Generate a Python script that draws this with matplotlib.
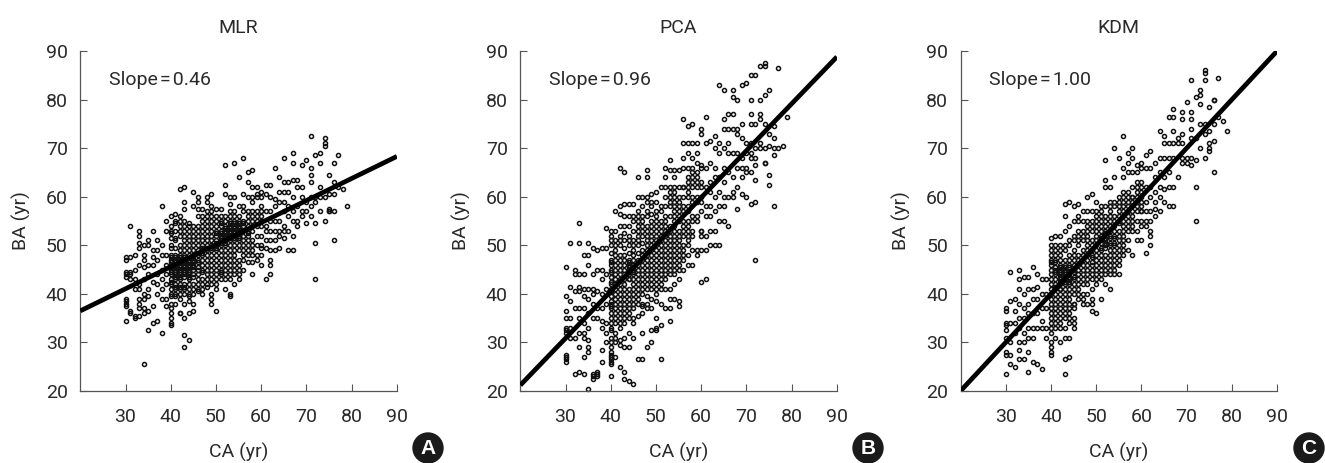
import matplotlib
matplotlib.use("Agg")
import matplotlib.pyplot as plt
from matplotlib.patches import Circle

plt.rcParams['font.family'] = ['Roboto', 'Liberation Sans', 'DejaVu Sans']

# chronological age, whole years
ca_years = list(range(30, 80))
core_years = list(range(40, 61))

# BA values, one row per CA year
mlr_ba = [
    [47, 47.5, 44, 43.5, 44.5, 39, 38.5, 38, 37.5, 34.5],
    [54, 47.5, 44.5, 44, 43, 36.5, 36],
    [48, 45, 43, 41, 35.5, 35],
    [53, 52, 50.5, 49.5, 46, 42, 41, 39, 38, 37, 35.5],
    [50, 48, 47, 45.5, 43, 40, 39, 37, 36, 25.5],
    [51, 50, 46, 44, 41, 39.5, 36.5, 32.5],
    [53, 49, 47.5, 46, 42.5, 37.5, 34],
    [51, 49, 47, 44, 42, 40, 34.5],
    [58, 50, 48, 45, 43, 41, 39, 32],
    [55, 53, 48, 46, 44, 42, 39, 37.5],
    [56, 54, 53, 51.5, 50, 48, 47, 46, 45, 44, 43, 42, 41, 40, 38, 37, 36, 35, 34, 33.5],
    [56.5, 55, 53, 51, 49.5, 48, 47, 46, 45, 44, 43, 42, 41, 40, 38],
    [61.5, 56, 54, 52, 50, 48, 47, 46, 45, 44, 43, 42, 41, 40, 36, 36],
    [62, 59, 57.5, 55, 54, 52, 50, 48, 47, 46, 45, 44, 42, 41, 40, 38, 35, 31.5, 29],
    [54.5, 54, 53, 51, 49, 47, 46, 45, 44, 43, 41, 40, 38.5, 36, 30.5],
    [61, 58, 54, 52, 50, 48, 47, 46, 45, 44, 42, 40, 38, 36.5],
    [60, 59, 56, 54, 52, 51, 49, 48, 47, 45, 44, 43, 41],
    [57.5, 56, 55, 53, 51, 50, 49, 48, 46, 45, 43, 42, 40],
    [60, 59, 57, 55, 54, 52, 50, 49, 47, 45, 44, 42],
    [60.5, 58, 56, 54, 52, 50, 49, 47, 46, 44, 42, 40, 39, 38],
    [57.5, 56, 55, 53, 52, 50, 49, 48, 46, 45, 44, 42, 36.5],
    [57.5, 56, 54, 53, 52, 51, 50, 48, 47, 45, 44, 43],
    [66.5, 62.5, 60.5, 56, 54, 53, 52, 51, 50, 48, 46, 44, 43, 41],
    [60, 58.5, 56, 55, 54, 53, 52, 51, 49, 47, 45, 44, 40, 39.5],
    [67, 60, 56, 55, 54, 53, 52, 51, 50, 48, 46, 44, 42],
    [64, 56, 55, 54, 53, 52, 51, 50, 47, 45, 43],
    [68, 60.5, 58, 55, 54, 53, 51, 50, 48, 45],
    [65, 63, 60, 57, 55, 53, 52, 51, 50, 49, 46.5],
    [65.5, 62, 60, 59, 57, 55, 53, 50, 48, 46.5, 44],
    [62, 60.5, 57, 54, 52, 48, 47],
    [61, 60, 57, 55, 54, 50, 49.5, 46],
    [62.5, 60.5, 57, 54, 53, 51, 49.5, 43],
    [62.5, 60, 57, 55, 53, 51, 49, 47, 46, 44],
    [66, 59.5, 58, 55, 53, 51, 49],
    [64, 61, 59, 55, 53, 52, 49.5],
    [68, 63, 61, 59, 57, 54, 53, 51.5],
    [63, 61, 58, 56, 53, 49],
    [69, 67, 63.5, 60, 57, 55, 52, 49],
    [63.5, 62, 58, 55, 54],
    [66.5, 62, 60, 57, 56],
    [67.5, 59, 57, 54.5],
    [72.5, 66, 64.5, 63, 60, 58, 56],
    [68.5, 60, 59, 54.5, 50.5, 43],
    [69, 67, 62, 60, 57],
    [72, 71, 70.5, 60, 55],
    [64.5, 60.5, 57.5, 57, 57],
    [67, 63, 60.5, 57, 51],
    [68.5, 62],
    [61.5],
    [58],
]

# extra points of the dense middle, CA 40 to 60
mlr_core = [
    [52.5, 49.5, 47.5, 46.5, 45.5, 44.5, 42.5, 39.5],
    [54.5, 51.5, 47.5, 46.5, 45.5, 44.5, 43.5, 41.5, 39.5],
    [55, 53, 49, 47.5, 46.5, 45.5, 44.5, 43.5, 41.5, 39],
    [53, 51, 49, 47.5, 46.5, 45.5, 44.5, 43.5, 41.5],
    [52, 50, 48, 46.5, 45.5, 44.5, 43.5, 42, 39.5],
    [53, 51, 49, 47.5, 46.5, 45.5, 43.5, 41],
    [57.5, 53, 50, 48.5, 46.5, 45.5, 42, 40.5],
    [54, 52, 49.5, 48.5, 47, 44.5, 41],
    [56, 53, 51, 49.5, 48, 46, 43, 41.5],
    [57, 55, 53, 51, 49.5, 48, 45, 43],
    [54, 52.5, 51, 50.5, 49.5, 47, 43, 41],
    [55, 54.5, 52.5, 51.5, 50.5, 49, 46, 44.5],
    [55, 53.5, 52.5, 51.5, 50.5, 49, 47, 45],
    [57, 54.5, 53.5, 52.5, 51.5, 50, 48, 46, 43],
    [57, 54.5, 53.5, 52.5, 51.5, 49, 47, 45],
    [58, 54.5, 53.5, 52.5, 51.5, 49, 46, 44],
    [57, 54.5, 52, 49, 47],
    [56, 54, 52.5, 48],
    [56, 54, 51, 49],
    [60, 56, 55, 50],
    [58, 56, 52, 48],
]

pca_ba = [
    [45.5, 39.5, 36.5, 35, 33, 32.5, 32, 27.5, 27, 26.5, 26],
    [50.5, 41.5, 38.5, 35, 33, 31],
    [45, 44, 40.5, 37, 31, 23.5],
    [54.5, 50.5, 44, 41.5, 40.5, 37, 35, 32, 29, 24],
    [48, 44, 41, 39.5, 37, 34, 32, 31, 27, 23.5],
    [50.5, 48, 46, 41, 39, 36, 33, 30.5, 29, 28, 20.5],
    [49.5, 44, 41, 40, 38, 35, 23.5, 23, 22.5],
    [49, 45, 40.5, 37, 35, 24, 23.5, 23],
    [49.5, 45, 43, 40, 37, 34.5, 33, 28.5, 26],
    [53.5, 49.5, 44, 41, 38, 34, 32, 30],
    [53, 52, 50, 47, 46, 45, 43.5, 42, 41, 39.5, 38, 37, 36, 34, 33, 31, 30, 29, 28, 27.5, 27, 26.5, 26, 25.5, 23],
    [57, 53, 50, 48, 46, 44, 42, 40, 38, 36, 34, 32, 30, 27],
    [66, 58, 56.5, 52, 50, 47, 45, 43, 41, 39, 37, 35, 33, 30.5, 29.5, 25],
    [65, 58.5, 56, 54, 51, 48, 46, 44, 42, 40, 38, 36, 34, 31, 29, 24, 22.5],
    [58.5, 56, 52, 50, 47, 46, 45, 44, 43, 41, 39, 37, 35, 32, 29, 22],
    [58.5, 56, 53, 50, 48, 46, 45, 44, 42, 40, 38, 35, 34, 31, 21.5],
    [64, 60, 56, 54, 52, 50, 47, 45, 43, 41, 39, 35.5, 26.5],
    [60, 56, 54, 52, 49, 47, 45, 43, 41, 38, 36, 32, 26.5],
    [65.5, 64, 60, 57, 54, 52, 50, 48, 46, 44, 42, 38, 37, 29],
    [60.5, 58, 55, 53, 51, 49, 47, 45, 43, 41, 37, 32.5, 30],
    [61, 57, 55, 53, 51, 49, 47, 45, 43, 41, 38.5, 35, 33, 32.5],
    [62, 58, 55, 53, 51, 49, 48, 46, 44, 41, 38, 33.5, 26.5],
    [66, 64, 62, 60, 55, 53, 51, 49, 47, 45, 43, 41, 37],
    [67.5, 65.5, 62, 60, 58, 54, 52, 50, 48, 46, 44, 41, 39, 37, 34.5],
    [65.5, 64, 62, 60, 58, 56, 54, 52, 50, 48, 46, 44, 42, 39],
    [65.5, 60, 58, 56, 53, 51, 49, 47, 45, 43, 38.5, 37.5],
    [76, 71, 68, 66, 62, 58, 55, 53, 50, 48, 45],
    [74.5, 71, 69, 64, 62, 60, 57, 54, 52, 50, 46],
    [75, 71, 68, 65, 63, 60, 56, 53, 49, 46],
    [71, 69, 65, 63, 60, 56, 49, 48],
    [74, 73, 66.5, 63, 59, 53, 52, 49, 42.5],
    [76.5, 71, 66, 62, 58, 56, 52, 49, 43],
    [71.5, 67, 63, 61, 58, 56, 53, 50],
    [72.5, 70, 66, 64, 60, 57, 53, 50],
    [83, 71, 69, 64, 61, 58, 55, 50],
    [82, 76, 74, 70, 66, 63, 60, 58, 55],
    [77, 74, 71, 69, 65, 60, 54],
    [82, 80.5, 77, 74, 69, 64, 61, 60],
    [80, 74, 73, 69, 66, 62, 57.5],
    [83, 75, 72, 68, 66, 64, 60.5],
    [83.5, 71, 69, 66, 65, 60],
    [85, 80, 77, 75, 71, 69, 68, 65, 58.5],
    [85, 75, 70, 68, 66.5, 63.5, 59, 47],
    [87, 80, 77, 76, 71, 70],
    [87.5, 87, 81, 75, 70, 67, 67],
    [82, 73, 70.5, 64.5, 62.5],
    [74.5, 72, 70, 68.5, 58],
    [86.5, 70],
    [70.5],
    [76.5],
]

pca_core = [
    [51, 48.5, 46.5, 44.5, 42.5, 40.5, 38.5, 37.5, 35, 32.5],
    [51, 49, 47, 45, 43, 41, 39, 37, 35, 31],
    [54, 51, 48, 46, 44, 42, 40, 38, 36, 34],
    [52.5, 49.5, 47, 45, 43, 41, 39, 37, 35],
    [54, 51, 48.5, 46.5, 45.5, 44.5, 43, 40, 38, 36],
    [55, 51, 49, 47, 45.5, 44.5, 43, 41, 39, 37],
    [57, 55, 53, 51, 48.5, 46, 44, 42, 40, 38],
    [58, 55, 53, 50.5, 48, 46, 44, 42, 40, 37.5],
    [59, 56, 53, 51, 49, 47, 45, 43, 41, 39.5],
    [59, 56.5, 54, 52, 50, 48, 46, 44, 42, 39],
    [59, 56, 54, 52, 50, 48, 46, 44, 42, 40],
    [57, 54, 52, 50, 47, 45, 43, 42],
    [58, 56, 54, 52, 50, 48, 46, 44],
    [61, 59, 56, 53, 51, 49, 47, 45],
    [61, 59, 57, 55, 53, 51, 49, 47, 45],
    [62, 59, 57, 55, 52, 50, 48, 46],
    [62, 60, 57, 54, 52, 49, 47],
    [66, 63, 61, 58, 55, 53, 51, 48],
    [66, 64, 62, 59, 55, 52],
    [67, 64, 62, 59, 55],
    [66, 62, 60, 57, 53],
]

kdm_ba = [
    [37, 36.5, 34, 33.5, 32.5, 31, 28, 27.5, 23.5],
    [44.5, 38.5, 34, 30, 27.5, 25.5],
    [39, 36.5, 34, 32, 25],
    [45, 43, 41, 38, 35, 33, 30, 28.5, 26.5],
    [43.5, 40, 37, 35, 32, 30, 26.5],
    [43.5, 41, 38, 36, 33, 31, 28, 24],
    [45.5, 41, 39, 36, 33, 31, 26],
    [44, 41.5, 39, 36, 33, 25.5],
    [43, 40, 37, 34.5, 33, 24.5],
    [43, 40, 37, 33, 31],
    [51.5, 49, 47, 46, 44, 42, 40, 38, 36, 34, 32, 30, 29, 28, 27.5],
    [52, 50, 48, 47, 45, 44, 42, 41, 39, 37, 35, 33, 31],
    [52, 50, 48, 46, 45, 44, 43, 42, 41, 39, 37, 35, 33, 30],
    [58.5, 56, 53, 50, 47, 45, 44, 43, 42, 40, 38, 36, 33, 31, 26.5, 23.5],
    [59, 54, 51, 48, 46, 44, 43, 42, 40, 38, 36, 34, 31, 27],
    [58, 55, 52, 49, 47, 45, 43, 41, 38, 37, 34, 33],
    [58.5, 55, 52, 50, 47, 44, 42, 40],
    [57, 55, 52, 49, 47, 45, 42, 39, 38],
    [60, 57, 54, 52, 50, 47, 45, 42, 38],
    [60.5, 57, 54, 51, 48, 46, 44, 41, 39, 38, 36.5],
    [59, 56, 54, 52, 50, 48, 46, 44, 42, 36],
    [58, 56, 54, 52, 51, 49, 47, 45, 43, 39],
    [67.5, 63.5, 62, 58, 55, 53, 51, 50, 48, 46, 44, 42],
    [62, 58, 56, 54, 52, 50, 48, 46, 44, 41],
    [70, 64, 59, 56, 54, 52, 50, 48, 45, 44],
    [68, 59, 57, 55, 53, 51, 48, 46, 44],
    [72.5, 66, 64, 61, 58, 56, 54, 52, 50, 48],
    [69, 67, 65, 61, 58, 56, 54, 51, 49],
    [70, 68, 65, 60, 58, 55, 53, 48],
    [66.5, 65, 62, 60, 58, 53, 51],
    [67, 66, 62, 60, 58, 57, 55, 51],
    [68.5, 66, 62, 59, 57, 55, 54, 48.5],
    [69.5, 66, 62, 60, 57, 55, 53, 52, 50],
    [67, 64, 61, 59, 57.5, 56],
    [73.5, 68, 65, 62, 60, 57],
    [72.5, 71, 68, 64, 61.5, 59],
    [76.5, 71, 68, 65, 62, 58],
    [78, 76.5, 73.5, 71, 68, 62, 58],
    [72, 71, 64],
    [77.5, 76, 73, 71, 68, 67],
    [79.5, 68, 67],
    [84, 77.5, 76, 74, 72, 68, 66.5],
    [80.5, 72, 67.5, 62, 55],
    [82, 81, 79, 75, 70],
    [86, 85.5, 84, 75, 73, 68],
    [78.5, 73.5, 71, 70, 69.5],
    [80, 80, 75, 71.5, 65],
    [84.5, 76.5],
    [75.5],
    [73.5],
]

kdm_core = [
    [50, 48, 46.5, 45, 43, 41, 39, 37, 35, 33],
    [49, 46.5, 45.5, 44.5, 43, 41.5, 40, 38, 36, 34],
    [49, 47, 45.5, 44.5, 43.5, 42.5, 41, 40, 38, 36, 34],
    [49, 46, 45.5, 44.5, 43.5, 42.5, 41, 39, 37, 35],
    [50, 47, 45.5, 44.5, 43.5, 42.5, 41, 39, 37, 35],
    [51, 48, 46, 44.5, 43.5, 42, 40, 38, 35],
    [56, 53, 51, 48, 46, 45, 43, 41, 39],
    [53, 51, 48, 46, 44, 43, 40],
    [55, 53, 51, 49, 48, 46, 44, 43, 40],
    [55, 53, 50, 49, 47.5, 46.5, 45, 43],
    [57, 55, 53, 51, 49, 47, 45, 43],
    [57, 55, 53, 51.5, 50.5, 49.5, 48, 46, 44],
    [56, 54, 52.5, 51.5, 50.5, 49.5, 47, 45],
    [59, 57, 55, 53, 51.5, 50.5, 49, 47, 45],
    [58, 55, 53, 51.5, 50.5, 49, 47, 46],
    [60, 58, 56, 54.5, 52, 50, 49, 47],
    [60, 59, 57, 55, 53, 51, 49],
    [60, 59, 57, 55, 53],
    [62, 60, 59, 57, 56, 54],
    [63, 61, 59, 57, 55],
    [63, 61, 59, 57, 54],
]

# fit lines at CA 20 and CA 90
line_ca = [20, 90]
mlr_line = [36.5, 68.3]
pca_line = [21.2, 88.8]
kdm_line = [20, 90]

titles = ['MLR', 'PCA', 'KDM']
slopes = ['Slope\u200a=\u200a0.46', 'Slope\u200a=\u200a0.96', 'Slope\u200a=\u200a1.00']
badges = ['A', 'B', 'C']
x_ticks = [30, 40, 50, 60, 70, 80, 90]
y_ticks = [20, 30, 40, 50, 60, 70, 80, 90]

W, H = 1325, 463
TXT = '#2a2a2a'
fig = plt.figure(figsize=(W / 100, H / 100), dpi=100)

panels = [(80.3, mlr_ba, mlr_core, mlr_line),
          (520.3, pca_ba, pca_core, pca_line),
          (960.5, kdm_ba, kdm_core, kdm_line)]
for i, (left, ba_rows, core_rows, fit) in enumerate(panels):
    ax = fig.add_axes([left / W, (H - 391) / H, 316.6 / W, 340 / H])
    xs, ys = [], []
    for ca, row in zip(ca_years, ba_rows):
        xs += [ca] * len(row)
        ys += row
    for ca, row in zip(core_years, core_rows):
        xs += [ca] * len(row)
        ys += row
    ax.plot(xs, ys, 'o', ms=2.9, mfc='none', mec='#111111', mew=1.1, zorder=2, clip_on=False)
    ax.plot(line_ca, fit, color='black', lw=3.4, solid_capstyle='butt', zorder=3)

    ax.set_xlim(20, 90)
    ax.set_ylim(20, 90)
    ax.set_xticks(x_ticks)
    ax.set_yticks(y_ticks)
    ax.tick_params(direction='in', length=5.2, width=0.8, color='#555555',
                   labelsize=14, labelcolor=TXT)
    ax.tick_params(axis='x', pad=12.5)
    ax.tick_params(axis='y', pad=9)
    ax.spines['top'].set_visible(False)
    ax.spines['right'].set_visible(False)
    ax.spines['left'].set_color('#555555')
    ax.spines['bottom'].set_color('#555555')
    ax.spines['left'].set_linewidth(0.9)
    ax.spines['bottom'].set_linewidth(0.9)

    ax.set_title(titles[i], fontsize=14, color=TXT, pad=13)
    ax.set_xlabel('CA (yr)', fontsize=14, color=TXT, labelpad=11.5)
    ax.set_ylabel('BA (yr)', fontsize=14, color=TXT, labelpad=11)
    ax.text(0.09, 0.915, slopes[i], transform=ax.transAxes, fontsize=14, color=TXT,
            ha='left', va='center')

# panel letters, in pixel coordinates of the whole figure
overlay = fig.add_axes([0, 0, 1, 1])
overlay.set_xlim(0, W)
overlay.set_ylim(H, 0)
overlay.axis('off')
for cx, letter in zip([428, 868, 1309], badges):
    overlay.add_patch(Circle((cx, 448), 15, color='#1a1a1a'))
    overlay.text(cx, 448.5, letter, color='white', fontsize=15, fontweight='bold',
                 family='Liberation Sans', ha='center', va='center')

fig.savefig('out.png', dpi=100)
